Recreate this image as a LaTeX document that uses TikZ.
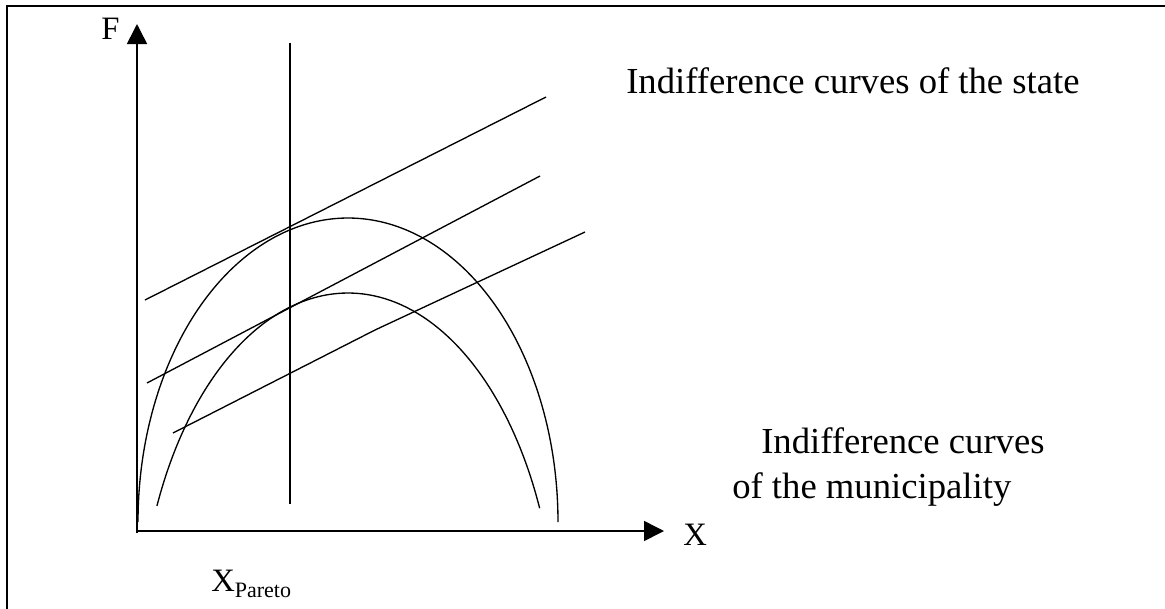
\documentclass[tikz,border=0pt]{standalone}
\usepackage{fontspec}
\setmainfont{Liberation Serif}
\usetikzlibrary{arrows.meta}
\begin{document}
\begin{tikzpicture}[x=0.75pt,y=-0.75pt,
  thinline/.style={line width=1pt},
  axisline/.style={line width=1.2pt,-{Triangle[length=15pt,width=15pt]}},
  framebox/.style={line width=1.6pt},
  biglabel/.style={font=\fontsize{27.5}{33}\selectfont,inner sep=0pt,anchor=base west},
  axislabel/.style={font=\fontsize{24.5}{29}\selectfont,inner sep=0pt,anchor=base west}]
\useasboundingbox (0,0) rectangle (1165,608);
% frame (right and bottom edges lie outside the picture)
\draw[framebox] (7,620) -- (7,6) -- (1175,6);
% axes
\coordinate (O) at (137,533);
\coordinate (Ftip) at (137,24);
\coordinate (Ox) at (136,531);
\coordinate (Xtip) at (664,531);
\draw[axisline] (O) -- (Ftip);
\draw[axisline] (Ox) -- (Xtip);
% vertical line at X_Pareto
\coordinate (Vt) at (290,43);
\coordinate (Vb) at (290,504);
\draw[thinline] (Vt) -- (Vb);
% state indifference lines
\coordinate (A1) at (145,300); \coordinate (B1) at (546,97);
\coordinate (A2) at (147,383); \coordinate (B2) at (540,176);
\coordinate (A3) at (173,433); \coordinate (M3) at (375,330); \coordinate (B3) at (585,232);
\draw[thinline] (A1) -- (B1);
\draw[thinline] (A2) -- (B2);
\draw[thinline] (A3) -- (M3) -- (B3);
% municipality indifference curves
\draw[thinline] plot[domain=180:360,samples=120,smooth] ({348+210*cos(\x)},{522+304*sin(\x)});
\draw[thinline] plot[domain=203.9:336.5,samples=120,smooth] ({348+209*cos(\x)},{651+358*sin(\x)});
% labels
\node[axislabel] (F) at (101,39) {F};
\node[axislabel] (X) at (683,545) {X};
\node[axislabel] (XP) at (211,591) {X\raisebox{-5pt}{\fontsize{16.5}{20}\selectfont Pareto}};
\node[biglabel] (S) at (626,93) {Indifference curves of the state};
\node[biglabel] (M1) at (761,453) {Indifference curves};
\node[biglabel] (M2) at (732,498) {of the municipality};
\end{tikzpicture}
\end{document}
